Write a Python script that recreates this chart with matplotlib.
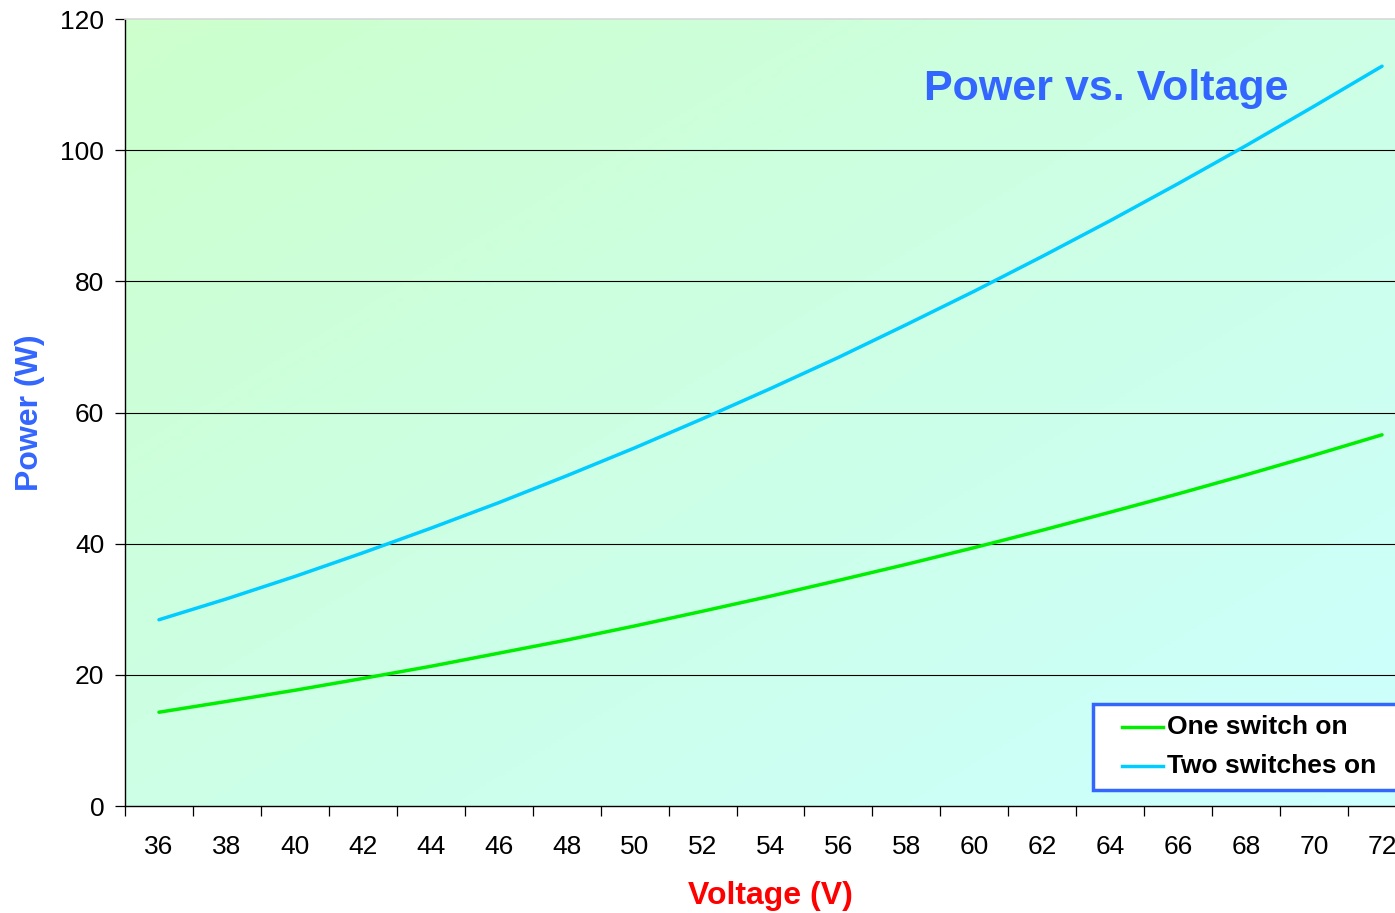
import numpy as np
import matplotlib.pyplot as plt
from matplotlib.patches import Rectangle
from matplotlib.lines import Line2D

plt.rcParams['font.family'] = ['Liberation Sans', 'DejaVu Sans']

voltage = [36, 38, 40, 42, 44, 46, 48, 50, 52, 54, 56, 58, 60, 62, 64, 66, 68, 70, 72]
one_switch = [14.3, 15.95, 17.65, 19.45, 21.3, 23.3, 25.3, 27.45, 29.7, 32.0, 34.4, 36.85,
              39.4, 42.05, 44.8, 47.6, 50.5, 53.5, 56.6]
two_switches = [28.4, 31.6, 35.0, 38.6, 42.35, 46.25, 50.35, 54.6, 59.05, 63.65, 68.4, 73.4,
                78.5, 83.8, 89.25, 94.9, 100.7, 106.7, 112.8]
labels = ['One switch on', 'Two switches on']
colors = ['#00ee00', '#00ccff']

W, H = 1395, 913
fig = plt.figure(figsize=(W / 100, H / 100), dpi=100)
ax = fig.add_axes([125 / W, 107 / H, 1291 / W, 787 / H])

# diagonal background gradient, light green -> light cyan
gx, gy = np.meshgrid(np.linspace(0, 1, 200), np.linspace(1, 0, 200))
t = (gx + (1 - gy)) / 2
c0 = np.array([0.80, 1.0, 0.80])
c1 = np.array([0.80, 1.0, 1.0])
img = c0[None, None, :] * (1 - t[..., None]) + c1[None, None, :] * t[..., None]
ax.imshow(img, extent=[0, 1, 0, 1], transform=ax.transAxes, aspect='auto', zorder=0)

for yv in [20, 40, 60, 80, 100]:
    ax.axhline(yv, color='black', lw=0.8, zorder=1)

ax.plot(voltage, one_switch, color=colors[0], lw=2.5, zorder=3,
        solid_capstyle='round')
ax.plot(voltage, two_switches, color=colors[1], lw=2.5, zorder=3,
        solid_capstyle='round')

ax.set_xlim(35, 73)
ax.set_ylim(0, 120)
ax.set_xticks(np.arange(35, 74, 2))
ax.set_xticklabels([])
ax.set_xticks(voltage, minor=True)
ax.set_xticklabels([str(v) for v in voltage], minor=True)
ax.tick_params(axis='x', which='major', length=7, width=0.9, direction='out')
ax.tick_params(axis='x', which='minor', length=0, pad=21, labelsize=19)
ax.set_yticks(np.arange(0, 121, 20))
ax.tick_params(axis='y', length=7, width=0.9, pad=8, labelsize=19)

ax.spines['right'].set_visible(False)
ax.spines['top'].set_color('#d8d8d8')
ax.spines['top'].set_linewidth(1.2)
ax.spines['left'].set_linewidth(1.0)
ax.spines['bottom'].set_linewidth(1.0)

fig.text(1106 / W, 1 - 89 / H, 'Power vs. Voltage', ha='center', va='center',
         fontsize=31, fontweight='bold', color='#3366ff')
fig.text(30 / W, 1 - 413 / H, 'Power (W)', rotation=90, ha='center', va='center',
         fontsize=23, fontweight='bold', color='#3366ff')
fig.text(770 / W, 1 - 896 / H, 'Voltage (V)', ha='center', va='center',
         fontsize=23, fontweight='bold', color='#ff0000')

# legend box (cut off by the right edge, as in the original)
box = Rectangle((1093 / W, 1 - 790 / H), 330 / W, 86 / H, transform=fig.transFigure,
                facecolor='white', edgecolor='#3366ff', lw=2.5, zorder=5)
fig.add_artist(box)
for i, (lab, col) in enumerate(zip(labels, colors)):
    yy = 1 - (727 + 39 * i) / H
    fig.add_artist(Line2D([1122 / W, 1163 / W], [yy, yy], transform=fig.transFigure,
                          color=col, lw=2.5, zorder=6))
    fig.text(1167 / W, yy, lab, ha='left', va='center', fontsize=19,
             fontweight='bold', color='black', zorder=6)

fig.savefig('out.png', dpi=100)
